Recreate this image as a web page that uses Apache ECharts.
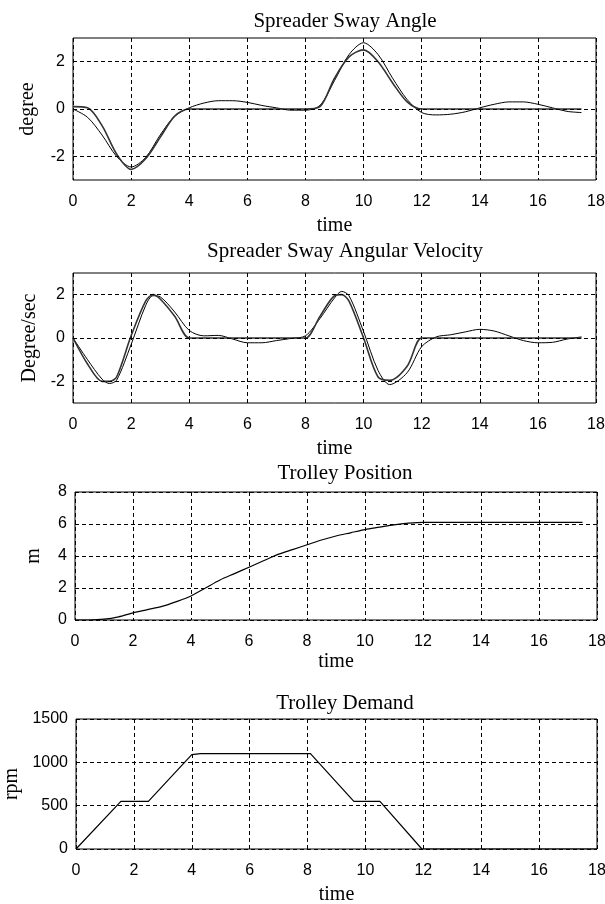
<!DOCTYPE html>
<html>
<head>
<meta charset="utf-8">
<script src="https://cdn.jsdelivr.net/npm/echarts@6/dist/echarts.min.js"></script>
<style>
  html, body { margin: 0; padding: 0; background: #fff; }
  #chart { width: 605px; height: 904px; }
</style>
</head>
<body>
<div id="chart"></div>
<script>
// sway angle (degree)
const angleTime = [0,0.5,1,1.5,2,2.5,3,3.5,4,4.5,5,5.5,6,6.5,7,7.5,8,8.5,9,9.5,10,10.5,11,11.5,12,12.5,13,13.5,14,14.5,15,15.5,16,16.5,17,17.5]
const angleMeasured = [0,-0.35,-1.1,-2.0,-2.45,-2.05,-1.1,-0.3,0.05,0.25,0.35,0.35,0.28,0.15,0.05,-0.05,-0.05,0.15,1.2,2.3,2.8,2.3,1.3,0.4,-0.15,-0.25,-0.22,-0.12,0.05,0.2,0.3,0.3,0.2,0.05,-0.1,-0.15]
const angleModel = [0.1,0.05,-0.7,-1.9,-2.55,-2.1,-1.2,-0.3,0,0,0,0,0,0,0,0,0,0.1,1.3,2.2,2.5,2.0,1.1,0.3,0,0,0,0,0,0,0,0,0,0,0,0]

// sway angular velocity (degree/sec)
const velTime = [0,0.5,1,1.25,1.5,2,2.5,2.75,3,3.5,4,4.5,5,5.5,6,6.5,7,7.5,8,8.5,9,9.25,9.5,10,10.5,10.9,11.5,12,12.5,13,13.5,14,14.5,15,15.5,16,16.5,17,17.5]
const velMeasured = [0,-1.0,-1.9,-2.1,-1.95,-0.3,1.5,1.95,1.9,1.2,0.35,0.1,0.12,-0.05,-0.22,-0.22,-0.12,-0.02,0.1,0.9,1.85,2.15,1.95,0.3,-1.5,-2.15,-1.6,-0.4,0.05,0.15,0.28,0.4,0.32,0.1,-0.12,-0.22,-0.2,-0.05,0.05]
const velModel = [0,-1.2,-2.0,-2.0,-1.8,0.1,1.7,2.0,1.8,1.0,0,0,0,0,0,0,0,0,0,1.0,1.95,2.0,1.7,0,-1.8,-1.95,-1.3,0,0,0,0,0,0,0,0,0,0,0,0]

// trolley position (m)
const posTime = angleTime
const posValues = [0,0,0.05,0.2,0.45,0.65,0.85,1.15,1.5,2.0,2.5,2.9,3.3,3.7,4.1,4.4,4.7,5.0,5.25,5.45,5.65,5.8,5.95,6.05,6.1,6.1,6.1,6.1,6.1,6.1,6.1,6.1,6.1,6.1,6.1,6.1]

// trolley demand (rpm)
const demandTime = [0,1.55,2.5,4.0,4.3,8.1,9.6,10.5,11.95,18]
const demandValues = [0,550,550,1090,1100,1100,550,550,0,0]

const titles = ['Spreader Sway Angle', 'Spreader Sway Angular Velocity', 'Trolley Position', 'Trolley Demand']
const yNames = ['degree', 'Degree/sec', 'm', 'rpm']
const swayTicks = [-2, 0, 2]

const pair = (xs, ys) => xs.map((x, i) => [x, ys[i]])

const serif = 'Liberation Serif, Times New Roman, serif'
const tickFont = 'Liberation Sans Narrow, Arial Narrow, Liberation Sans, sans-serif'
const dash = [4, 3]

const grids = [
    { left: 73, top: 38, width: 523, height: 142 },
    { left: 73, top: 273, width: 523, height: 130 },
    { left: 75, top: 492, width: 522, height: 128 },
    { left: 76, top: 719, width: 521, height: 130 }
].map(g => ({
    ...g, show: true, borderColor: '#000', borderWidth: 1, backgroundColor: '#fff',
    containLabel: false, outerBoundsMode: 'none'
}))

const titleTops = [6, 236, 458, 688]
const xGaps = [36, 36, 32, 36]

const xAxes = grids.map((g, i) => ({
    type: 'value', gridIndex: i, min: 0, max: 18, interval: 2,
    name: 'time', nameLocation: 'middle', nameGap: xGaps[i],
    nameTextStyle: { fontFamily: serif, fontSize: 20, color: '#000' },
    axisLine: { show: false }, axisTick: { show: false },
    axisLabel: { color: '#000', fontFamily: tickFont, fontSize: 16, margin: 14 },
    splitLine: { show: true, lineStyle: { color: '#000', type: dash, width: 1 } }
}))

const yRanges = [
    { min: -3, max: 3, interval: 1 },
    { min: -3, max: 3, interval: 1 },
    { min: 0, max: 8, interval: 2 },
    { min: 0, max: 1500, interval: 500 }
]
const yGaps = [35, 32, 31, 48]

const yAxes = yRanges.map((r, i) => ({
    type: 'value', gridIndex: i, ...r,
    name: yNames[i], nameLocation: 'middle', nameGap: yGaps[i], nameRotate: 90,
    nameTextStyle: { fontFamily: serif, fontSize: 20, color: '#000' },
    axisLine: { show: false }, axisTick: { show: false },
    axisLabel: {
        color: '#000', fontFamily: tickFont, fontSize: 16, margin: 8,
        formatter: v => (i < 2 && v % 2 !== 0) ? '' : String(v)
    },
    splitLine: { show: i >= 2, lineStyle: { color: '#000', type: dash, width: 1 } }
}))

const swayGrid = {
    silent: true, symbol: 'none', label: { show: false },
    lineStyle: { color: '#000', type: dash, width: 1 },
    data: swayTicks.map(v => ({ yAxis: v }))
}

const line = (idx, data, width, color, extra) => ({
    type: 'line', xAxisIndex: idx, yAxisIndex: idx, data,
    showSymbol: false, smooth: 0.3, z: 3,
    lineStyle: { color, width }, ...extra
})

const option = {
    animation: false,
    title: titles.map((t, i) => ({
        text: t, left: 340, top: titleTops[i], textAlign: 'center',
        textStyle: { fontFamily: serif, fontSize: 21, fontWeight: 'normal', color: '#000' }
    })),
    grid: grids,
    xAxis: xAxes,
    yAxis: yAxes,
    series: [
        line(0, pair(angleTime, angleMeasured), 1, '#000', { markLine: swayGrid }),
        line(0, pair(angleTime, angleModel), 1.6, '#333'),
        line(1, pair(velTime, velMeasured), 1, '#000', { markLine: swayGrid }),
        line(1, pair(velTime, velModel), 1.6, '#333'),
        line(2, pair(posTime, posValues), 1.2, '#000'),
        line(3, pair(demandTime, demandValues), 1.2, '#000', { smooth: false })
    ]
}

const chart = echarts.init(document.getElementById('chart'))
chart.setOption(option)
</script>
</body>
</html>
